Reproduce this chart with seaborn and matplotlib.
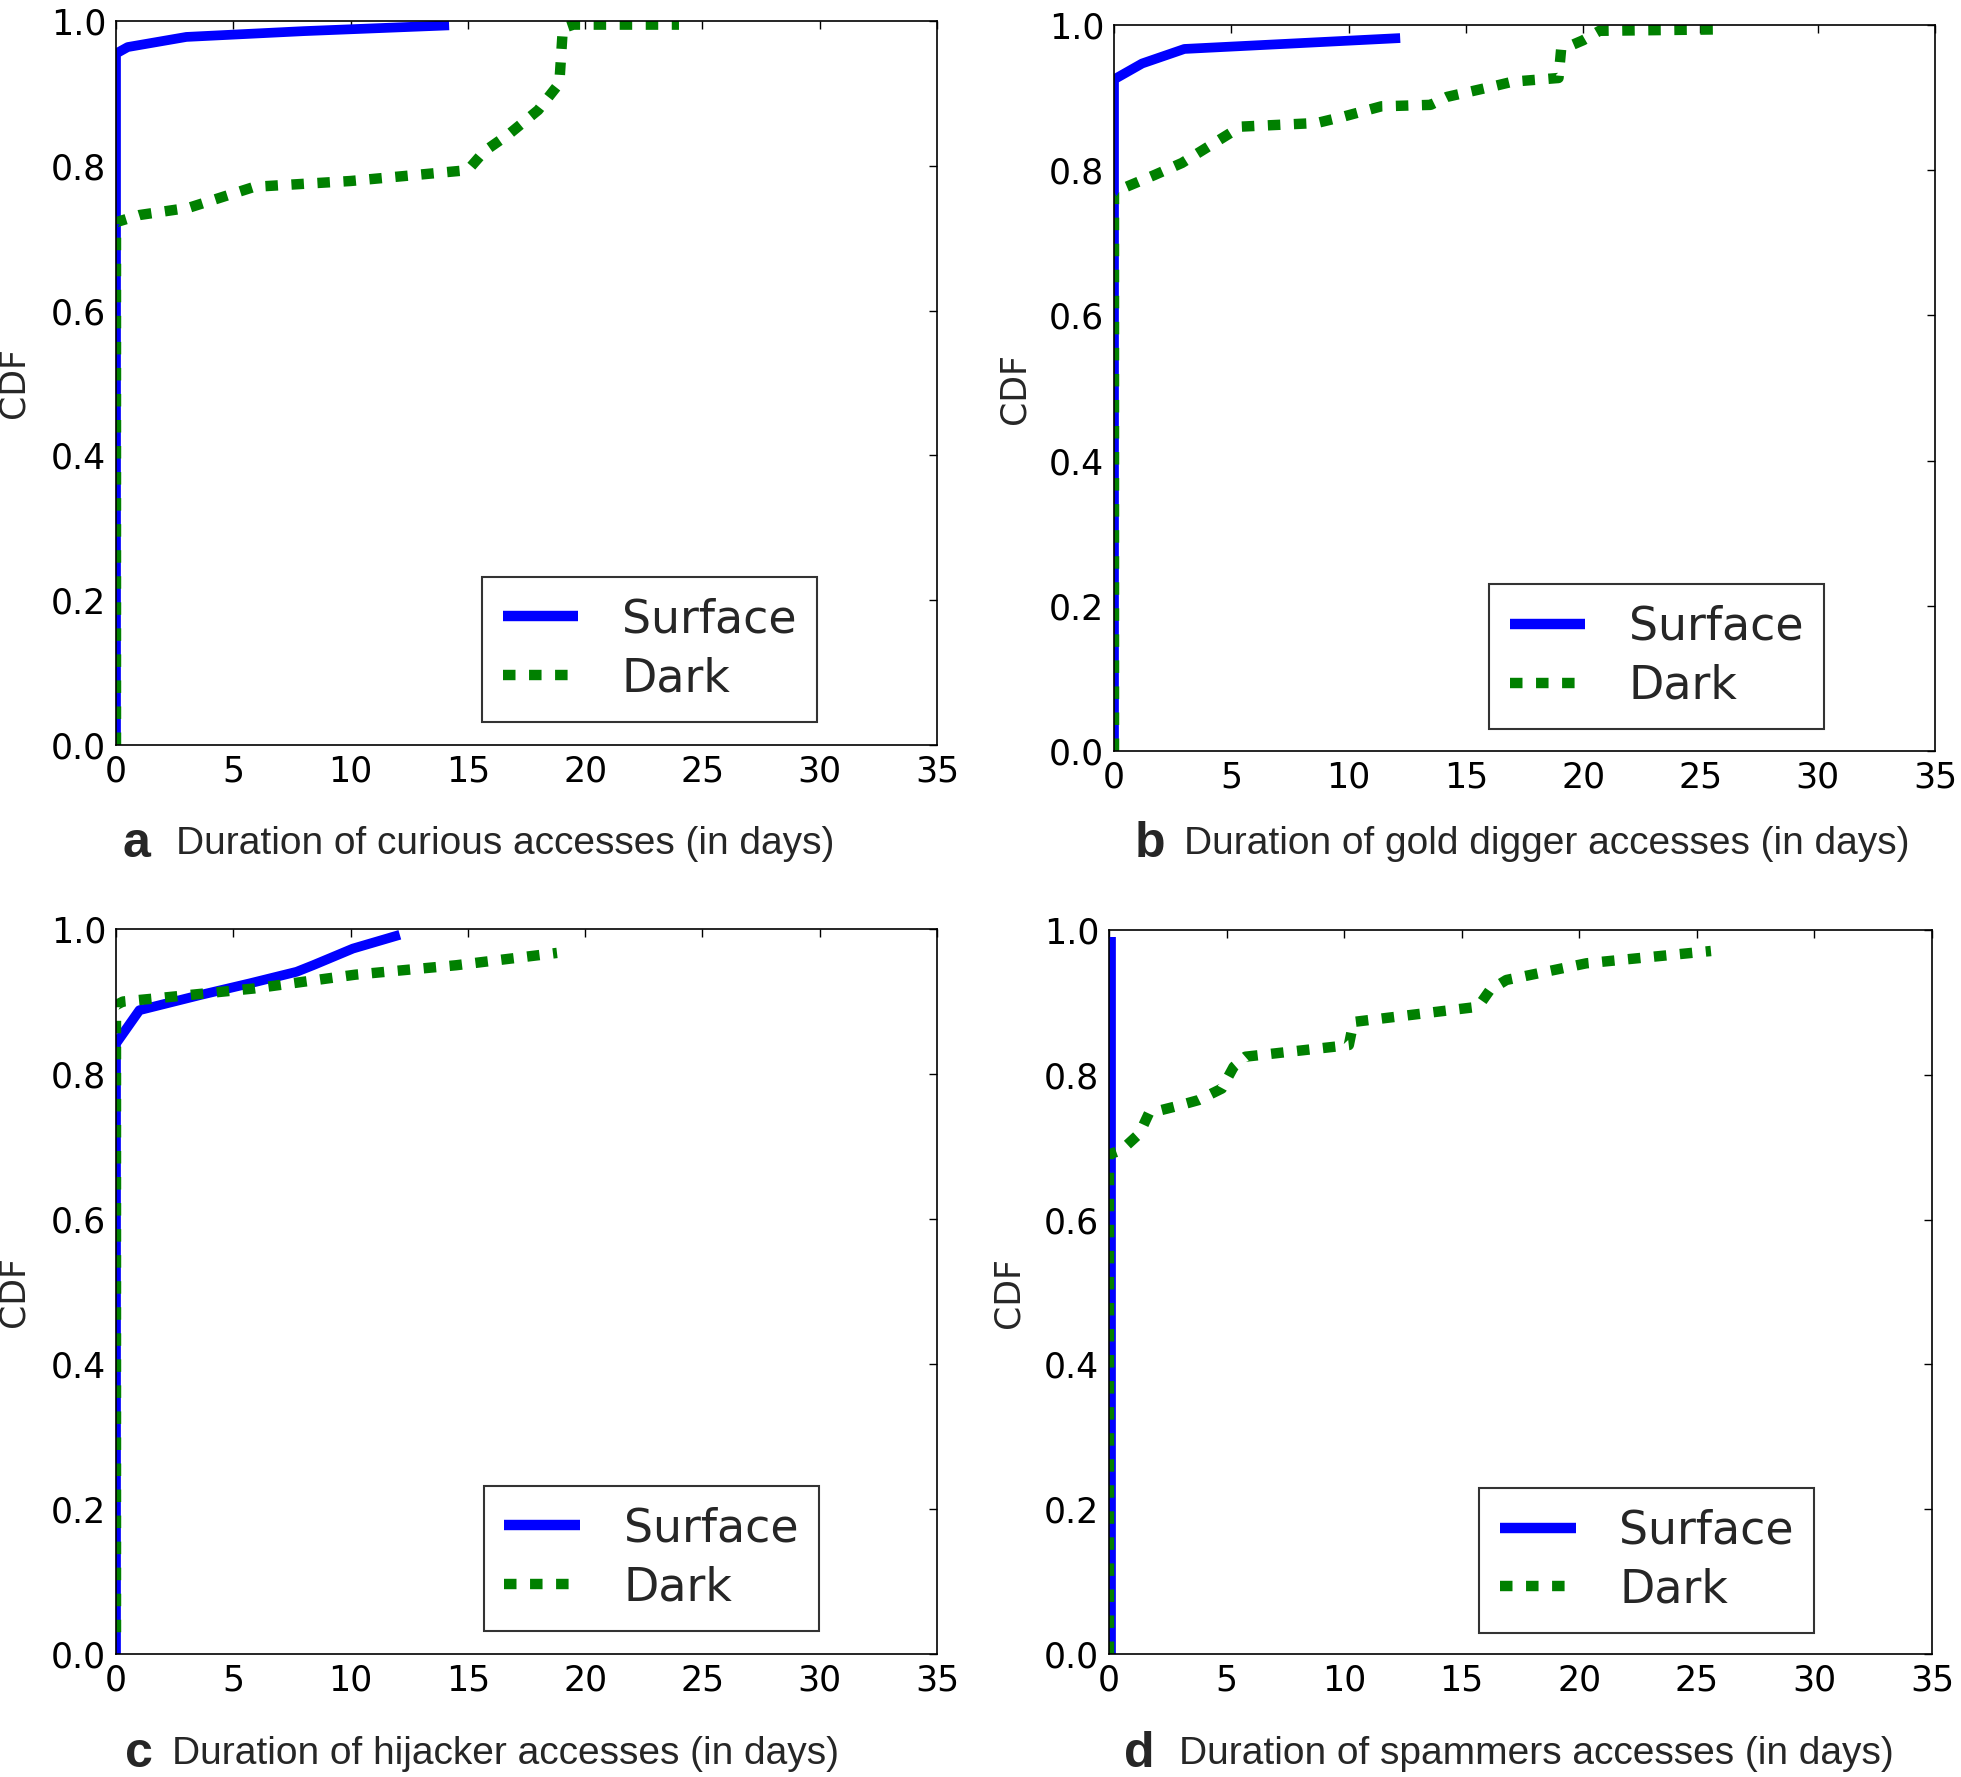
import numpy as np
import pandas as pd
import matplotlib
matplotlib.use("Agg")
import matplotlib.pyplot as plt
import seaborn as sns

# ---------------- data ----------------
panel_letters = ["a", "b", "c", "d"]
panel_captions = [
    "Duration of curious accesses (in days)",
    "Duration of gold digger accesses (in days)",
    "Duration of hijacker accesses (in days)",
    "Duration of spammers accesses (in days)",
]
series_names = ["Surface", "Dark"]

# panel a (curious)
a_surface_x = [0, 0, 0.5, 3, 8, 14.2]
a_surface_y = [0.0, 0.955, 0.964, 0.978, 0.986, 0.994]
a_dark_x = [0, 0, 1, 3.1, 5.9, 10, 15.0, 15.7, 16.8, 18.0, 18.9, 19.05, 19.5, 24.0]
a_dark_y = [0.0, 0.722, 0.732, 0.742, 0.771, 0.779, 0.794, 0.820, 0.845, 0.877, 0.914, 0.99, 0.995, 0.995]

# panel b (gold digger)
b_surface_x = [0, 0, 1.2, 3, 12.2]
b_surface_y = [0.0, 0.925, 0.947, 0.967, 0.982]
b_dark_x = [0, 0, 1.7, 2.9, 3.8, 4.95, 5.4, 8.65, 9.8, 11.4, 13.5, 14.2, 16.1, 17.0, 18.95, 19.06, 20.0, 20.7, 26.0]
b_dark_y = [0.0, 0.770, 0.793, 0.810, 0.828, 0.851, 0.860, 0.865, 0.874, 0.888, 0.890, 0.901, 0.915, 0.922, 0.927, 0.966, 0.979, 0.992, 0.994]

# panel c (hijacker)
c_surface_x = [0, 0, 1.0, 3.6, 5.7, 7.7, 8.4, 10.1, 12.1]
c_surface_y = [0.0, 0.842, 0.888, 0.909, 0.925, 0.941, 0.950, 0.973, 0.992]
c_dark_x = [0, 0, 0.3, 1.6, 5.9, 10.2, 14.5, 18.8]
c_dark_y = [0.03, 0.895, 0.900, 0.904, 0.918, 0.937, 0.950, 0.967]

# panel d (spammers)
d_surface_x = [0.1, 0.1]
d_surface_y = [0.0, 0.99]
d_dark_x = [0, 0, 0.53, 1.3, 1.7, 2.8, 3.8, 4.8, 5.3, 5.8, 10.2, 10.4, 15.7, 16.2, 16.9, 20.3, 25.6]
d_dark_y = [0.0, 0.690, 0.696, 0.719, 0.747, 0.756, 0.765, 0.781, 0.811, 0.825, 0.841, 0.873, 0.894, 0.917, 0.931, 0.954, 0.971]

x_ticks = [0, 5, 10, 15, 20, 25, 30, 35]
y_ticks = [0.0, 0.2, 0.4, 0.6, 0.8, 1.0]

panels = [
    (a_surface_x, a_surface_y, a_dark_x, a_dark_y),
    (b_surface_x, b_surface_y, b_dark_x, b_dark_y),
    (c_surface_x, c_surface_y, c_dark_x, c_dark_y),
    (d_surface_x, d_surface_y, d_dark_x, d_dark_y),
]

# ---------------- style ----------------
sns.set_theme(style="white")
plt.rcParams.update({
    "font.family": ["DejaVu Sans"],
    "axes.edgecolor": "black",
    "axes.linewidth": 1.2,
    "xtick.direction": "in",
    "ytick.direction": "in",
    "xtick.top": True,
    "ytick.right": True,
    "xtick.major.size": 5.5,
    "ytick.major.size": 5.5,
    "xtick.major.width": 1.0,
    "ytick.major.width": 1.0,
    "xtick.color": "black",
    "ytick.color": "black",
})

W, H = 1961, 1777
fig = plt.figure(figsize=(W / 100, H / 100), dpi=100)

# axes boxes in pixels: left, right, top, bottom
boxes = [
    (116, 937, 21, 745),
    (1114, 1935, 25, 751),
    (116, 937, 929, 1654),
    (1109, 1932, 930, 1654),
]
legend_anchor = [(0.446, 0.032), (0.457, 0.030), (0.448, 0.032), (0.450, 0.029)]
ylabel_x = [-0.104, -0.100, -0.104, -0.102]
caption_pos = [  # letter x, text x, y (pixels)
    (122, 176, 844),
    (1135, 1184, 844),
    (125, 172, 1754),
    (1124, 1179, 1754),
]

colors = {"Surface": "#0000ff", "Dark": "#008000"}
LW = 7.0

for i, (sx, sy, dx, dy) in enumerate(panels):
    l, r, t, b = boxes[i]
    ax = fig.add_axes([l / W, 1 - b / H, (r - l) / W, (b - t) / H])
    ax.set_facecolor("white")
    df_s = pd.DataFrame({"x": sx, "y": sy})
    df_d = pd.DataFrame({"x": dx, "y": dy})
    sns.lineplot(data=df_s, x="x", y="y", ax=ax, color=colors["Surface"],
                 lw=LW, sort=False, estimator=None, label="Surface",
                 solid_capstyle="butt")
    sns.lineplot(data=df_d, x="x", y="y", ax=ax, color=colors["Dark"],
                 lw=7.5, sort=False, estimator=None, label="Dark",
                 linestyle=(0, (1.2, 1.3)), dash_capstyle="butt")
    ax.set_xlim(0, 35)
    ax.set_ylim(0, 1.0)
    ax.set_xticks(x_ticks)
    ax.set_yticks(y_ticks)
    ax.set_xticklabels([str(v) for v in x_ticks])
    ax.set_yticklabels([f"{v:.1f}" for v in y_ticks])
    ax.tick_params(labelsize=25, pad=7)
    ax.set_xlabel("")
    ax.set_ylabel("CDF", fontsize=25)
    ax.yaxis.set_label_coords(ylabel_x[i], 0.5)
    for s in ax.spines.values():
        s.set_visible(True)
        s.set_color("black")
    leg = ax.legend(loc="lower left", bbox_to_anchor=legend_anchor[i],
                    borderaxespad=0, fontsize=33, frameon=True, fancybox=False,
                    handlelength=1.65, handletextpad=0.95, borderpad=0.45,
                    labelspacing=0.3)
    leg.get_frame().set_edgecolor("black")
    leg.get_frame().set_linewidth(1.5)
    for ln in leg.get_lines():
        ln.set_linewidth(7.5)

    lx, tx, ty = caption_pos[i]
    fig.text(lx / W, 1 - ty / H, panel_letters[i], fontsize=36, fontweight="bold",
             family=["Liberation Sans", "DejaVu Sans"], ha="left", va="center")
    fig.text(tx / W, 1 - ty / H, panel_captions[i], fontsize=28,
             family=["Liberation Sans", "DejaVu Sans"], ha="left", va="center")

fig.savefig("out.png", dpi=100, facecolor="white")
